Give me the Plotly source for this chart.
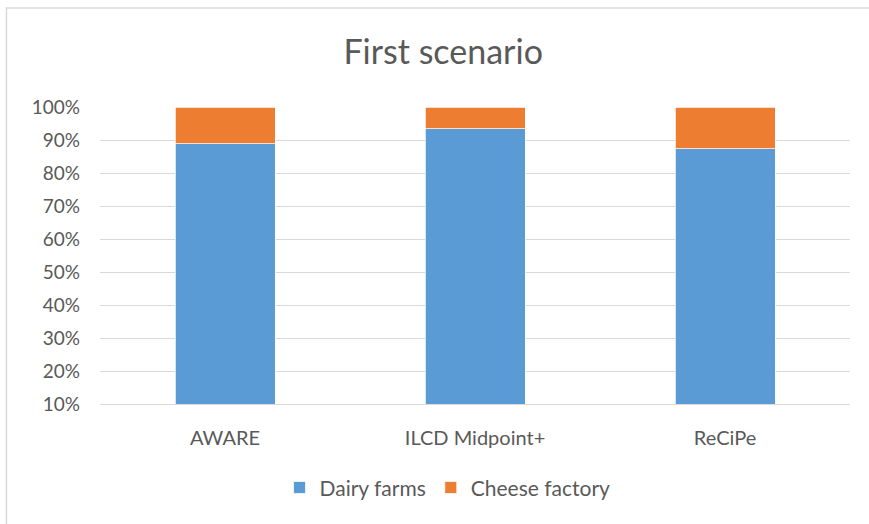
import plotly.graph_objects as go

categories = ["AWARE", "ILCD Midpoint+", "ReCiPe"]
dairy_farms = [88.8, 93.4, 87.4]
cheese_factory = [11.2, 6.6, 12.6]
y_ticks = [10, 20, 30, 40, 50, 60, 70, 80, 90, 100]
y_tick_labels = [f"{v}%" for v in y_ticks]

fig = go.Figure()
fig.add_trace(go.Bar(name="Dairy farms", x=categories, y=dairy_farms,
                     marker=dict(color="#5B9BD5", line=dict(color="white", width=0.75))))
fig.add_trace(go.Bar(name="Cheese factory", x=categories, y=cheese_factory,
                     marker=dict(color="#ED7D31", line=dict(color="white", width=0.75))))

fig.update_layout(
    barmode="stack",
    bargap=0.6,
    width=869, height=524,
    margin=dict(l=100, r=19, t=107, b=120),
    paper_bgcolor="white", plot_bgcolor="white",
    font=dict(family="Lato, Liberation Sans, sans-serif", color="#595959", size=18),
    title=dict(text="First scenario", xref="container", x=0.51, xanchor="center",
               yref="container", y=0.9, yanchor="middle",
               font=dict(size=34, color="#595959", family="Lato, sans-serif")),
    legend=dict(orientation="h", xref="container", x=0.515, xanchor="center",
                yref="container", y=0.069, yanchor="middle",
                font=dict(size=21, color="#595959"), itemwidth=30, traceorder="normal"),
    showlegend=True,
)
fig.update_yaxes(range=[10, 100], tickvals=y_ticks, ticktext=y_tick_labels,
                 showgrid=True, gridcolor="#D9D9D9", gridwidth=1, zeroline=False,
                 ticklabelstandoff=19, tickfont=dict(size=19, color="#595959"))
fig.update_xaxes(showline=True, linecolor="#D9D9D9", linewidth=1,
                 ticks="outside", ticklen=16, tickcolor="rgba(0,0,0,0)",
                 tickfont=dict(size=20, color="#595959"))
fig.add_shape(type="rect", xref="paper", yref="paper",
              x0=-0.1247, x1=1.05, y0=-0.424, y1=1.3333,
              line=dict(color="#D9D9D9", width=1.5), fillcolor="rgba(0,0,0,0)", layer="below")
fig.write_html("out.html", config={"displayModeBar": False},
               post_script="document.body.style.margin='0';")
